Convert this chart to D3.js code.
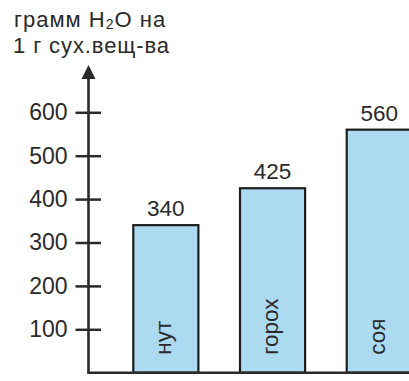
<!DOCTYPE html>
<html>
<head>
<meta charset="utf-8">
<script src="https://cdn.jsdelivr.net/npm/d3@7"></script>
<style>
html,body{margin:0;padding:0;background:#fff;}
svg{display:block;font-family:"Liberation Sans",Arial,sans-serif;}
</style>
</head>
<body>
<svg id="chart" width="409" height="381"></svg>
<script>
const categories = ["нут", "горох", "соя"];
const values = [340, 425, 560];
const tickValues = [100, 200, 300, 400, 500, 600];
const titleLines = ["грамм H₂O на", "1 г сух.вещ-ва"];

const svg = d3.select("#chart");
const axisX = 88.5, baseY = 372.7;
const y = d3.scaleLinear().domain([0, 600]).range([baseY, 112.3]);
const x = d3.scaleBand().domain(categories).range([133.3, 411.8]).paddingInner(0.39).paddingOuter(0);
const ink = "#2a2a2a";

// bars
svg.selectAll("rect.bar").data(values).join("rect")
  .attr("class", "bar")
  .attr("x", (d, i) => x(categories[i]))
  .attr("y", d => y(d))
  .attr("width", x.bandwidth())
  .attr("height", d => baseY - y(d))
  .attr("fill", "#acdaf1")
  .attr("stroke", "#1e1e1e")
  .attr("stroke-width", 2.2);

// value labels
svg.selectAll("text.val").data(values).join("text")
  .attr("class", "val")
  .attr("x", (d, i) => x(categories[i]) + x.bandwidth() / 2)
  .attr("y", d => y(d) - 9)
  .attr("text-anchor", "middle")
  .attr("font-size", 22.5)
  .attr("fill", ink)
  .text(d => d);

// category labels (rotated inside bars)
svg.selectAll("text.cat").data(categories).join("text")
  .attr("class", "cat")
  .attr("transform", d => `translate(${x(d) + x.bandwidth() / 2 + 5.5},${baseY - 18}) rotate(-90)`)
  .attr("text-anchor", "start")
  .attr("font-size", 22.5)
  .attr("fill", ink)
  .text(d => d);

// y axis
const yAxis = d3.axisLeft(y).tickValues(tickValues).tickSize(0).tickPadding(21);
const gy = svg.append("g").attr("transform", `translate(${axisX},0)`).call(yAxis);
gy.select(".domain").remove();
gy.selectAll(".tick text").attr("font-size", 23).attr("fill", ink).attr("font-family", "Liberation Sans, Arial, sans-serif");
gy.selectAll(".tick").append("line")
  .attr("x1", -13).attr("x2", 12.5)
  .attr("stroke", ink).attr("stroke-width", 2.5);

// axis lines
svg.append("line").attr("x1", axisX).attr("x2", axisX).attr("y1", 76).attr("y2", baseY + 1)
  .attr("stroke", ink).attr("stroke-width", 2.6);
svg.append("line").attr("x1", axisX - 1).attr("x2", 409).attr("y1", baseY).attr("y2", baseY)
  .attr("stroke", ink).attr("stroke-width", 2.4);
svg.append("path").attr("d", `M${axisX},65 L${axisX - 7},79 L${axisX + 7},79 Z`).attr("fill", ink);

// title
const t1 = svg.append("text").attr("x", 14).attr("y", 27).attr("font-size", 22)
  .attr("letter-spacing", 1).attr("fill", ink);
t1.append("tspan").text("грамм H");
t1.append("tspan").attr("font-size", 14).attr("dy", 2).text("2");
t1.append("tspan").attr("dy", -2).text("O на");
svg.append("text").attr("x", 13).attr("y", 53).attr("font-size", 22)
  .attr("letter-spacing", 0.9).attr("fill", ink).text(titleLines[1]);
</script>
</body>
</html>
